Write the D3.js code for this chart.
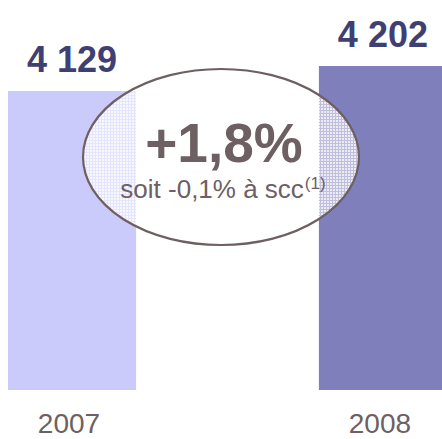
<!DOCTYPE html>
<meta charset="utf-8">
<script src="https://d3js.org/d3.v7.min.js"></script>
<style>
  body { margin: 0; background: white; }
  svg { display: block; font-family: Arial, "Liberation Sans", sans-serif; }
</style>
<body>
<div id="chart"></div>
<script>
  // data
  var years = ["2007", "2008"];
  var values = [4129, 4202];
  var valueLabels = ["4 129", "4 202"];
  var barColors = ["#cbcbfb", "#7f7fbb"];
  var growth = "+1,8%";
  var growthNote = "soit -0,1% à scc";
  var noteRef = "(1)";

  var width = 442, height = 439;

  var svg = d3.select("#chart")
    .append("svg")
      .attr("width", width)
      .attr("height", height);

  var x = d3.scaleBand()
    .domain(years)
    .range([8, 447])
    .paddingInner(0.588)
    .paddingOuter(0);

  // the axis does not start at zero in the original
  var y = d3.scaleLinear()
    .domain([3256, 4202])
    .range([390, 66]);

  // mesh pattern seen where the bubble overlaps the bars
  var defs = svg.append("defs");
  var pat = defs.append("pattern")
      .attr("id", "mesh")
      .attr("width", 3)
      .attr("height", 3)
      .attr("patternUnits", "userSpaceOnUse");
  pat.append("rect")
      .attr("width", 3).attr("height", 3)
      .attr("fill", "white").attr("fill-opacity", 0.5);
  pat.append("rect")
      .attr("width", 2).attr("height", 2)
      .attr("fill", "white").attr("fill-opacity", 0.7);

  svg.selectAll("rect.bar")
    .data(values)
    .enter()
    .append("rect")
      .attr("class", "bar")
      .attr("x", function(d, i) { return x(years[i]); })
      .attr("y", function(d) { return y(d); })
      .attr("width", x.bandwidth())
      .attr("height", function(d) { return y.range()[0] - y(d); })
      .attr("fill", function(d, i) { return barColors[i]; });

  svg.selectAll("text.val")
    .data(values)
    .enter()
    .append("text")
      .attr("class", "val")
      .attr("x", function(d, i) { return x(years[i]) + 64; })
      .attr("y", function(d) { return y(d) - 19; })
      .attr("text-anchor", "middle")
      .attr("font-size", "36px")
      .attr("font-weight", "bold")
      .attr("fill", "#3e4074")
      .text(function(d, i) { return valueLabels[i]; });

  svg.selectAll("text.year")
    .data(years)
    .enter()
    .append("text")
      .attr("class", "year")
      .attr("x", function(d) { return x(d) + 61; })
      .attr("y", 433)
      .attr("text-anchor", "middle")
      .attr("font-size", "28px")
      .attr("fill", "#6e6062")
      .text(function(d) { return d; });

  // growth bubble
  var cx = 221, cy = 157;
  svg.append("ellipse")
      .attr("cx", cx).attr("cy", cy)
      .attr("rx", 138).attr("ry", 88)
      .attr("fill", "url(#mesh)")
      .attr("stroke", "#6e5f60")
      .attr("stroke-width", 2.2);

  svg.append("text")
      .attr("x", cx + 3).attr("y", 162)
      .attr("text-anchor", "middle")
      .attr("font-size", "55px")
      .attr("font-weight", "bold")
      .attr("fill", "#6e6062")
      .text(growth);

  var note = svg.append("text")
      .attr("x", cx + 2).attr("y", 198)
      .attr("text-anchor", "middle")
      .attr("font-size", "26px")
      .attr("fill", "#6e6062");
  note.append("tspan").text(growthNote);
  note.append("tspan")
      .attr("font-size", "17px")
      .attr("dx", 1)
      .attr("dy", -9)
      .text(noteRef);
</script>
</body>
